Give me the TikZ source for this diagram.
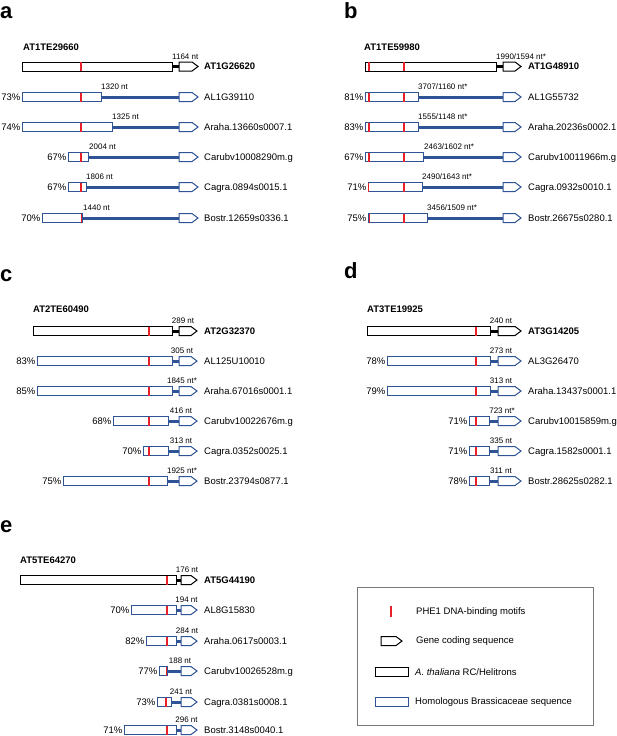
\documentclass[tikz,border=0pt]{standalone}
\usepackage{fontspec}
\setmainfont{Liberation Sans}
\definecolor{homblue}{RGB}{47,84,150}
\definecolor{motred}{RGB}{232,32,40}
\definecolor{leggray}{RGB}{120,120,120}
\tikzset{
  atbox/.style={draw=black, fill=white, line width=1pt, inner sep=0pt, outer sep=0pt, minimum height=9pt},
  hombox/.style={draw=homblue, fill=white, line width=1pt, inner sep=0pt, outer sep=0pt, minimum height=9pt},
  gbox/.style={inner sep=0pt, outer sep=0pt, minimum height=9pt},
  atgene/.style={draw=black, fill=white, line width=1pt, line join=miter},
  homgene/.style={draw=homblue, fill=white, line width=1pt, line join=miter},
  atconn/.style={draw=black, line width=3pt},
  homconn/.style={draw=homblue, line width=3pt},
  motifst/.style={draw=motred, line width=1.4pt},
  pct/.style={inner sep=0pt, anchor=base east, font=\fontsize{9.5}{11}\selectfont},
  ntl/.style={inner sep=0pt, font=\fontsize{8}{9}\selectfont},
  gname/.style={inner sep=0pt, anchor=base west, font=\fontsize{9.5}{11}\selectfont},
  hdr/.style={inner sep=0pt, anchor=base west, font=\fontsize{9.5}{11}\selectfont\bfseries},
  panel/.style={inner sep=0pt, anchor=base west, font=\fontsize{22}{24}\selectfont\bfseries},
  legtext/.style={inner sep=0pt, anchor=base west, font=\fontsize{9.5}{11}\selectfont},
}
% #1 id, #2 y, #3 box left, #4 box right, #5 arrow start, #6 arrow end, #7 kind (at/hom)
\newcommand\seqrow[7]{%
  \node[#7box, minimum width={(#4-#3)*1pt}, anchor=west] (#1b) at (#3,#2) {};
  \node[gbox, minimum width={(#6-#5)*1pt}, anchor=west] (#1g) at (#5,#2) {};
  \draw[#7gene] (#1g.south west) -- (#1g.north west) -- ([xshift=-6pt]#1g.north east) -- (#1g.east) -- ([xshift=-6pt]#1g.south east) -- cycle;
  \draw[#7conn] (#1b.east) -- (#1g.west);
}
\newcommand\motif[2]{\draw[motifst] (#1,{#2-4.5}) -- (#1,{#2+4.5});}
% #1 id, #2 y, #3 box left, #4 text
\newcommand\pctlab[4]{\node[pct] (#1p) at ({#3-1.5},{#2+3.4}) {#4};}
% #1 id, #2 x, #3 y, #4 anchor, #5 text
\newcommand\ntlab[5]{\node[ntl, anchor=#4] (#1n) at (#2,{#3-7.5}) {#5};}
% #1 id, #2 x, #3 y, #4 extra, #5 text
\newcommand\gnamelab[5]{\node[gname,#4] (#1t) at (#2,{#3+3.4}) {#5};}
\begin{document}
\begin{tikzpicture}[x=1pt,y=-1pt]
\useasboundingbox (0,0) rectangle (617,736);

% ---------- panel a ----------
\node[panel] (pa) at (0,18) {a};
\node[hdr] (ha) at (23,50.5) {AT1TE29660};
\seqrow{a0}{66.5}{22}{172}{179}{198}{at}
\motif{81}{66.5}
\ntlab{a0}{172}{66.5}{base west}{1164 nt}
\gnamelab{a0}{204}{66.5}{font=\fontsize{9.5}{11}\selectfont\bfseries}{AT1G26620}

\seqrow{a1}{97}{22}{101}{179}{198}{hom}
\motif{81}{97}
\pctlab{a1}{97}{22}{73\%}
\ntlab{a1}{101}{97}{base west}{1320 nt}
\gnamelab{a1}{204}{97}{}{AL1G39110}

\seqrow{a2}{127}{22}{112}{179}{198}{hom}
\motif{81}{127}
\pctlab{a2}{127}{22}{74\%}
\ntlab{a2}{112}{127}{base west}{1325 nt}
\gnamelab{a2}{204}{127}{}{Araha.13660s0007.1}

\seqrow{a3}{157}{68}{88}{179}{198}{hom}
\motif{81}{157}
\pctlab{a3}{157}{68}{67\%}
\ntlab{a3}{89}{157}{base west}{2004 nt}
\gnamelab{a3}{204}{157}{}{Carubv10008290m.g}

\seqrow{a4}{187}{68}{86}{179}{198}{hom}
\motif{81}{187}
\pctlab{a4}{187}{68}{67\%}
\ntlab{a4}{86}{187}{base west}{1806 nt}
\gnamelab{a4}{204}{187}{}{Cagra.0894s0015.1}

\seqrow{a5}{218}{42}{82}{179}{198}{hom}
\motif{81.5}{218}
\pctlab{a5}{218}{42}{70\%}
\ntlab{a5}{83}{218}{base west}{1440 nt}
\gnamelab{a5}{204}{218}{}{Bostr.12659s0336.1}

% ---------- panel b ----------
\node[panel] (pb) at (344,18) {b};
\node[hdr] (hb) at (364,50.5) {AT1TE59980};
\seqrow{b0}{66.5}{365}{496}{503}{521}{at}
\motif{369}{66.5}\motif{404}{66.5}
\ntlab{b0}{496}{66.5}{base west}{1990/1594 nt*}
\gnamelab{b0}{528}{66.5}{font=\fontsize{9.5}{11}\selectfont\bfseries}{AT1G48910}

\seqrow{b1}{97}{365}{418}{503}{521}{hom}
\motif{369}{97}\motif{404}{97}
\pctlab{b1}{97}{365}{81\%}
\ntlab{b1}{418}{97}{base west}{3707/1160 nt*}
\gnamelab{b1}{528}{97}{}{AL1G55732}

\seqrow{b2}{127}{365}{418}{503}{521}{hom}
\motif{369}{127}\motif{404}{127}
\pctlab{b2}{127}{365}{83\%}
\ntlab{b2}{418}{127}{base west}{1555/1148 nt*}
\gnamelab{b2}{528}{127}{}{Araha.20236s0002.1}

\seqrow{b3}{157}{365}{423}{503}{521}{hom}
\motif{369}{157}\motif{404}{157}
\pctlab{b3}{157}{365}{67\%}
\ntlab{b3}{424}{157}{base west}{2463/1602 nt*}
\gnamelab{b3}{528}{157}{}{Carubv10011966m.g}

\seqrow{b4}{187}{368}{422}{503}{521}{hom}
\motif{368.7}{187}\motif{404}{187}
\pctlab{b4}{187}{368}{71\%}
\ntlab{b4}{422}{187}{base west}{2490/1643 nt*}
\gnamelab{b4}{528}{187}{}{Cagra.0932s0010.1}

\seqrow{b5}{218}{368}{427}{503}{521}{hom}
\motif{369.5}{218}\motif{404}{218}
\pctlab{b5}{218}{368}{75\%}
\ntlab{b5}{427}{218}{base west}{3456/1509 nt*}
\gnamelab{b5}{528}{218}{}{Bostr.26675s0280.1}

% ---------- panel c ----------
\node[panel] (pc) at (0,281) {c};
\node[hdr] (hc) at (33,312.5) {AT2TE60490};
\seqrow{c0}{331}{33}{172}{179}{197}{at}
\motif{149}{331}
\ntlab{c0}{183}{331}{base}{289 nt}
\gnamelab{c0}{204}{331}{font=\fontsize{9.5}{11}\selectfont\bfseries}{AT2G32370}

\seqrow{c1}{361}{37}{172}{179}{197}{hom}
\motif{149}{361}
\pctlab{c1}{361}{37}{83\%}
\ntlab{c1}{182}{361}{base}{305 nt}
\gnamelab{c1}{204}{361}{}{AL125U10010}

\seqrow{c2}{391}{37}{172}{179}{197}{hom}
\motif{149}{391}
\pctlab{c2}{391}{37}{85\%}
\ntlab{c2}{182}{391}{base}{1845 nt*}
\gnamelab{c2}{204}{391}{}{Araha.67016s0001.1}

\seqrow{c3}{421}{113}{168}{179}{197}{hom}
\motif{149}{421}
\pctlab{c3}{421}{113}{68\%}
\ntlab{c3}{181}{421}{base}{416 nt}
\gnamelab{c3}{204}{421}{}{Carubv10022676m.g}

\seqrow{c4}{451}{143}{168}{179}{197}{hom}
\motif{149}{451}
\pctlab{c4}{451}{143}{70\%}
\ntlab{c4}{181}{451}{base}{313 nt}
\gnamelab{c4}{204}{451}{}{Cagra.0352s0025.1}

\seqrow{c5}{481}{63}{167}{179}{197}{hom}
\motif{149}{481}
\pctlab{c5}{481}{63}{75\%}
\ntlab{c5}{182}{481}{base}{1925 nt*}
\gnamelab{c5}{204}{481}{}{Bostr.23794s0877.1}

% ---------- panel d ----------
\node[panel] (pd) at (344,278) {d};
\node[hdr] (hd) at (367,312.5) {AT3TE19925};
\seqrow{d0}{331}{367}{490}{498}{521}{at}
\motif{476}{331}
\ntlab{d0}{501}{331}{base}{240 nt}
\gnamelab{d0}{528}{331}{font=\fontsize{9.5}{11}\selectfont\bfseries}{AT3G14205}

\seqrow{d1}{361}{387}{490}{498}{521}{hom}
\motif{476}{361}
\pctlab{d1}{361}{387}{78\%}
\ntlab{d1}{501}{361}{base}{273 nt}
\gnamelab{d1}{528}{361}{}{AL3G26470}

\seqrow{d2}{391}{387}{490}{498}{521}{hom}
\motif{476}{391}
\pctlab{d2}{391}{387}{79\%}
\ntlab{d2}{501}{391}{base}{313 nt}
\gnamelab{d2}{528}{391}{}{Araha.13437s0001.1}

\seqrow{d3}{421}{469}{489}{498}{521}{hom}
\motif{476}{421}
\pctlab{d3}{421}{469}{71\%}
\ntlab{d3}{502}{421}{base}{723 nt*}
\gnamelab{d3}{528}{421}{}{Carubv10015859m.g}

\seqrow{d4}{451}{469}{489}{498}{521}{hom}
\motif{476}{451}
\pctlab{d4}{451}{469}{71\%}
\ntlab{d4}{501}{451}{base}{335 nt}
\gnamelab{d4}{528}{451}{}{Cagra.1582s0001.1}

\seqrow{d5}{481}{469}{489}{498}{521}{hom}
\motif{476}{481}
\pctlab{d5}{481}{469}{78\%}
\ntlab{d5}{501}{481}{base}{311 nt}
\gnamelab{d5}{528}{481}{}{Bostr.28625s0282.1}

% ---------- panel e ----------
\node[panel] (pe) at (0,532) {e};
\node[hdr] (he) at (20,563.5) {AT5TE64270};
\seqrow{e0}{580}{20}{176}{181}{197}{at}
\motif{167}{580}
\ntlab{e0}{187}{580}{base}{176 nt}
\gnamelab{e0}{204}{580}{font=\fontsize{9.5}{11}\selectfont\bfseries}{AT5G44190}

\seqrow{e1}{610}{131}{176}{181}{197}{hom}
\motif{167}{610}
\pctlab{e1}{610}{131}{70\%}
\ntlab{e1}{186.5}{610}{base}{194 nt}
\gnamelab{e1}{204}{610}{}{AL8G15830}

\seqrow{e2}{641}{146}{176}{181}{197}{hom}
\motif{167}{641}
\pctlab{e2}{641}{146}{82\%}
\ntlab{e2}{187}{641}{base}{284 nt}
\gnamelab{e2}{204}{641}{}{Araha.0617s0003.1}

\seqrow{e3}{671}{159}{167}{181}{197}{hom}
\motif{166.5}{671}
\pctlab{e3}{671}{159}{77\%}
\ntlab{e3}{180}{671}{base}{188 nt}
\gnamelab{e3}{204}{671}{}{Carubv10026528m.g}

\seqrow{e4}{702}{157}{171}{181}{197}{hom}
\motif{166}{702}
\pctlab{e4}{702}{157}{73\%}
\ntlab{e4}{181}{702}{base}{241 nt}
\gnamelab{e4}{204}{702}{}{Cagra.0381s0008.1}

\seqrow{e5}{730}{124}{176}{181}{197}{hom}
\motif{167}{730}
\pctlab{e5}{730}{124}{71\%}
\ntlab{e5}{186.5}{730}{base}{296 nt}
\gnamelab{e5}{204}{730}{}{Bostr.3148s0040.1}

% ---------- legend ----------
\node[draw=leggray, line width=0.8pt, inner sep=0pt, outer sep=0pt, minimum width=236pt, minimum height=138pt, anchor=north west] (leg) at (357,587) {};
\draw[motifst] (391,605.5) -- (391,616.5);
\node[legtext] (l1) at (416,614.4) {PHE1 DNA-binding motifs};
\node[gbox, minimum width=21pt, anchor=west] (lg) at (381,641) {};
\draw[atgene] (lg.south west) -- (lg.north west) -- ([xshift=-6pt]lg.north east) -- (lg.east) -- ([xshift=-6pt]lg.south east) -- cycle;
\node[legtext] (l2) at (416,643.4) {Gene coding sequence};
\node[atbox, minimum width=33pt, anchor=west] (lat) at (375,672) {};
\node[legtext] (l3) at (415,675.4) {\textit{A. thaliana} RC/Helitrons};
\node[hombox, minimum width=33pt, anchor=west] (lhom) at (375,702) {};
\node[legtext] (l4) at (415,704.4) {Homologous Brassicaceae sequence};
\end{tikzpicture}
\end{document}
